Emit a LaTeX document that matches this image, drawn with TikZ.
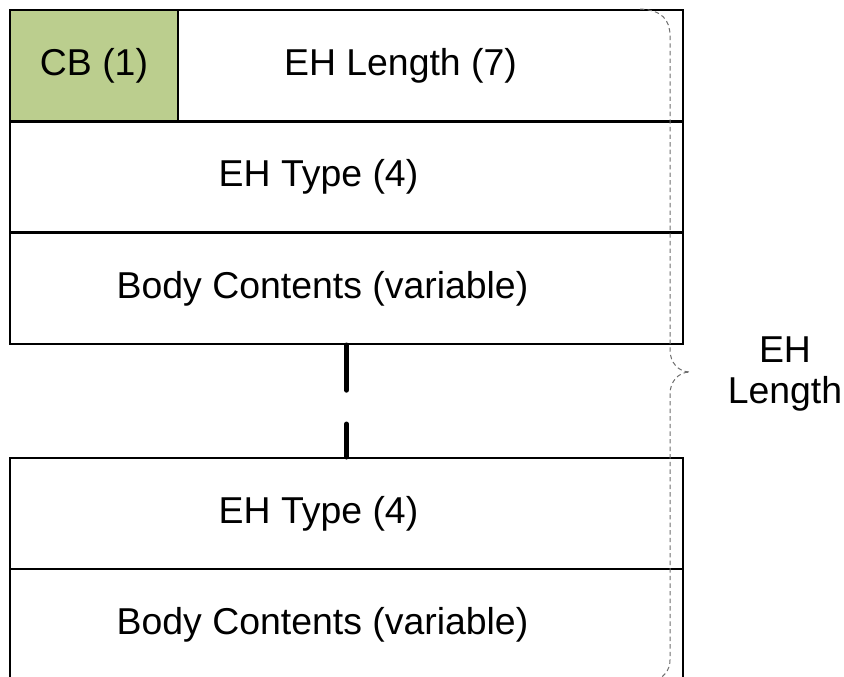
\documentclass[tikz,border=0pt]{standalone}
\usepackage{fontspec}
\setmainfont{Liberation Sans}
\usetikzlibrary{positioning, calc}
\definecolor{cbgreen}{RGB}{187, 206, 142}
\definecolor{bracegray}{RGB}{110, 110, 110}

\begin{document}
\begin{tikzpicture}[
                x=0.5pt, y=-0.5pt,
                field/.style={draw=black, line width=1.1pt, minimum height=55.5pt, inner sep=0pt},
                wide/.style={field, minimum width=336.5pt},
                txt/.style={font=\fontsize{18.7}{21}\selectfont, inner sep=0pt},
                gapline/.style={line width=2.6pt, line cap=round, dash pattern=on 22.5pt off 17pt},
                bracing/.style={draw=bracegray, line width=0.5pt, dash pattern=on 2.2pt off 1.6pt},
                label/.style={font=\fontsize{18.7}{20.5}\selectfont, align=center}
            ]
                \useasboundingbox (0,0) rectangle (844,676);
                
                % first header
                \node[field, fill=cbgreen, minimum width=84pt] (cb) at (94, 65.5) {};
                \node[field, minimum width=252.5pt] (len) at (430.5, 65.5) {};
                \node[wide] (type1) at (346.5, 177) {};
                \node[wide] (body1) at (346.5, 288.5) {};
                
                % last header
                \node[wide] (type2) at (346.5, 513.5) {};
                \node[wide] (body2) at (346.5, 624.5) {};
                
                % field names
                \node[txt] (cbtxt) at (cb) {CB (1)};
                \node[txt] (lentxt) at ([xshift=-15pt]len.center) {EH Length (7)};
                \node[txt] (type1txt) at ([xshift=-14pt]type1.center) {EH Type (4)};
                \node[txt] (body1txt) at ([xshift=-12pt]body1.center) {Body Contents (variable)};
                \node[txt] (type2txt) at ([xshift=-14pt]type2.center) {EH Type (4)};
                \node[txt] (body2txt) at ([xshift=-12pt]body2.center) {Body Contents (variable)};
                
                \draw[gapline] (body1.south) -- (type2.north);
                
                % brace
                \coordinate (top) at (640, 9);
                \coordinate (tip) at (690, 372);
                \coordinate (bot) at (652, 682);
                \draw[bracing] (top) .. controls (662, 10) and (670, 20) .. (670, 36)
                    -- (670, 350) .. controls (670, 362) and (678, 372) .. (tip)
                    .. controls (678, 372) and (670, 382) .. (670, 394)
                    -- (670, 660) .. controls (670, 670) and (664, 678) .. (bot);
                \node[label] (ehlen) at (785, 374) {EH\\Length};
            \end{tikzpicture}
\end{document}
